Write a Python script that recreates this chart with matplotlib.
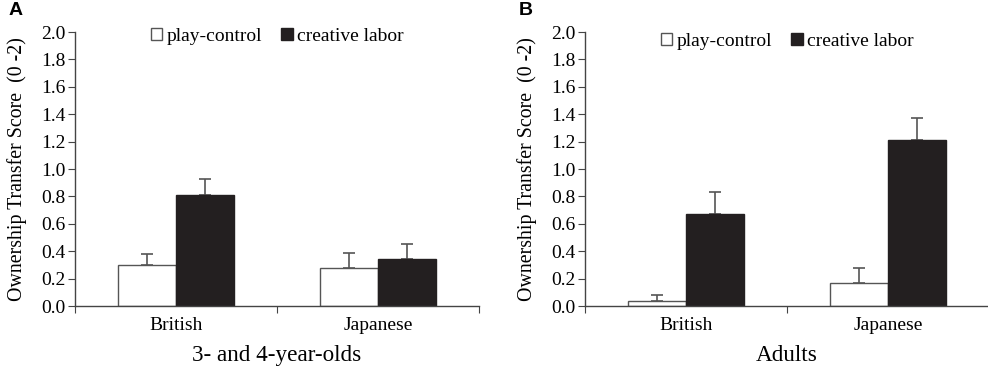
import matplotlib
matplotlib.use("Agg")
import matplotlib.pyplot as plt
from matplotlib.patches import Patch

# Data
groups = ["British", "Japanese"]
series_names = ["play-control", "creative labor"]

kids_play = [0.30, 0.28]
kids_play_err = [0.08, 0.105]
kids_labor = [0.81, 0.345]
kids_labor_err = [0.115, 0.105]

adult_play = [0.04, 0.165]
adult_play_err = [0.04, 0.115]
adult_labor = [0.67, 1.21]
adult_labor_err = [0.165, 0.16]

yticks = [0.0, 0.2, 0.4, 0.6, 0.8, 1.0, 1.2, 1.4, 1.6, 1.8, 2.0]

plt.rcParams['font.family'] = ['Liberation Serif', 'DejaVu Serif']
axis_gray = '#444444'
black_fill = '#231f20'

fig = plt.figure(figsize=(9.88, 3.74), dpi=100)
ax_a = fig.add_axes([0.0759, 0.1818, 0.4089, 0.7326])
ax_b = fig.add_axes([0.5921, 0.1818, 0.4089, 0.7326])


def draw_panel(ax, play, play_err, labor, labor_err, xlabel, letter, leg_y):
    x = range(len(groups))
    w = 0.285
    xp = [i - w / 2 for i in x]
    xl = [i + w / 2 for i in x]
    ax.bar(xp, play, width=w, color='white', edgecolor='#555555', linewidth=1.0, zorder=2)
    ax.bar(xl, labor, width=w, color=black_fill, edgecolor=black_fill, linewidth=1.0, zorder=2)
    ax.errorbar(xp, play, yerr=[[0] * len(play), play_err], fmt='none',
                ecolor='#555555', elinewidth=1.2, capsize=4, capthick=1.2, zorder=1)
    ax.errorbar(xl, labor, yerr=[[0] * len(labor), labor_err], fmt='none',
                ecolor='#555555', elinewidth=1.2, capsize=4, capthick=1.2, zorder=1)

    ax.set_xlim(-0.5, 1.5)
    ax.set_ylim(0, 2.0)
    ax.set_yticks(yticks)
    ax.set_yticklabels(["%.1f" % v for v in yticks], fontsize=14)
    ax.set_xticks([-0.5, 0.5, 1.5])
    ax.set_xticklabels([])
    ax.set_xticks(list(x), minor=True)
    ax.set_xticklabels(groups, minor=True, fontsize=14)
    ax.tick_params(axis='x', which='minor', length=0, pad=8)
    ax.tick_params(axis='x', which='major', length=5, color=axis_gray)
    ax.tick_params(axis='y', length=5, color=axis_gray, pad=2)
    for s in ['top', 'right']:
        ax.spines[s].set_visible(False)
    for s in ['left', 'bottom']:
        ax.spines[s].set_color(axis_gray)
        ax.spines[s].set_linewidth(1.0)

    ax.set_ylabel("Ownership Transfer Score  (0 -2)", fontsize=14.3, labelpad=10)
    ax.set_xlabel(xlabel, fontsize=16.7, labelpad=8)

    handles = [Patch(facecolor='white', edgecolor='#555555', linewidth=1.0),
               Patch(facecolor=black_fill, edgecolor=black_fill)]
    ax.legend(handles, series_names, loc='upper center', bbox_to_anchor=(0.5, leg_y),
              ncol=2, frameon=False, fontsize=14, handlelength=0.6, handleheight=0.6,
              handletextpad=0.2, columnspacing=1.0)

    ax.text(-0.165, 1.11, letter, transform=ax.transAxes, fontsize=14,
            fontweight='bold', family='Liberation Sans', va='top', ha='left')


draw_panel(ax_a, kids_play, kids_play_err, kids_labor, kids_labor_err,
           "3- and 4-year-olds", "A", 1.08)
draw_panel(ax_b, adult_play, adult_play_err, adult_labor, adult_labor_err,
           "Adults", "B", 1.06)

fig.savefig("out.png", dpi=100)
